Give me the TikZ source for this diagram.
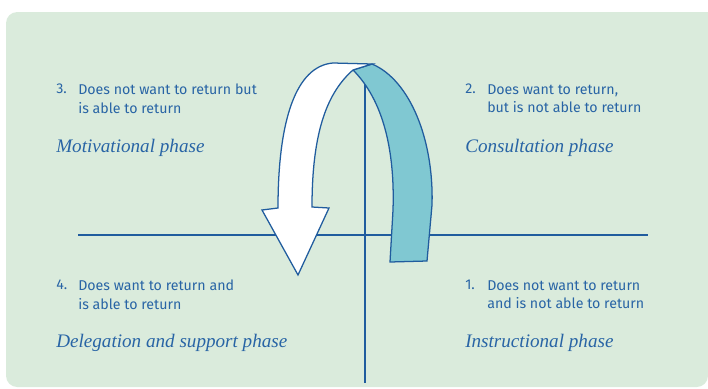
\documentclass[tikz,border=0pt]{standalone}
\usepackage{fontspec}
\setsansfont{Fira Sans}[Numbers=Lining]
\setmainfont{Liberation Serif}
\definecolor{bgGreen}{RGB}{218,235,220}
\definecolor{lineBlue}{RGB}{32,92,158}
\definecolor{textBlue}{RGB}{40,100,165}
\definecolor{bandTeal}{RGB}{128,200,210}
\tikzset{
  item/.style={anchor=north west,align=left,inner sep=0pt,text=textBlue,
    font=\sffamily\fontsize{10.1}{13.2}\selectfont},
  phase/.style={anchor=west,inner sep=0pt,text=textBlue,
    font=\itshape\fontsize{13.6}{15}\selectfont},
  axis/.style={lineBlue,line width=0.9pt}
}
\begin{document}
\begin{tikzpicture}[x=0.025cm,y=-0.025cm]
    \useasboundingbox (0,0) rectangle (708,388);
    % Fondo
    \fill[bgGreen,rounded corners=8] (708,12) -- (6,12) -- (6,387) -- (708,387) [sharp corners] -- cycle;

    % Ejes
    \coordinate (L) at (78,235);
    \coordinate (R) at (648,235);
    \coordinate (T) at (365,70);
    \coordinate (B) at (365,383);
    \draw[axis] (L) -- (R);
    \draw[axis] (T) -- (B);

    % Flecha
    \coordinate (C1) at (353,70);
    \coordinate (C2) at (372,64);
    \draw[lineBlue,line width=0.9pt,fill=bandTeal] (C1) -- (C2)
        .. controls (410,80) and (434,140) .. (432,205) -- (427,261) -- (390,262)
        -- (393,210) .. controls (395,150) and (383,100) .. (C1);
    \draw[lineBlue,line width=0.9pt,fill=white] (C2) -- (333,63)
        .. controls (296,66) and (278,120) .. (278,208) -- (262,210) -- (298,275)
        -- (329,208) -- (312,207) .. controls (312,130) and (328,92) .. (C1) -- cycle;

    % Cuadrantes
    \node[item] (n3) at (56,84) {3.};
    \node[item] (t3) at (78,84) {Does not want to return but\\is able to return};
    \node[phase] (p3) at (56,148) {Motivational phase};

    \node[item] (n2) at (465,84) {2.};
    \node[item] (t2) at (487,84) {Does want to return,\\but is not able to return};
    \node[phase] (p2) at (465,148) {Consultation phase};

    \node[item] (n4) at (56,280) {4.};
    \node[item] (t4) at (78,280) {Does want to return and\\is able to return};
    \node[phase] (p4) at (56,343) {Delegation and support phase};

    \node[item] (n1) at (465,280) {1.};
    \node[item] (t1) at (487,280) {Does not want to return\\and is not able to return};
    \node[phase] (p1) at (465,343) {Instructional phase};
\end{tikzpicture}
\end{document}
